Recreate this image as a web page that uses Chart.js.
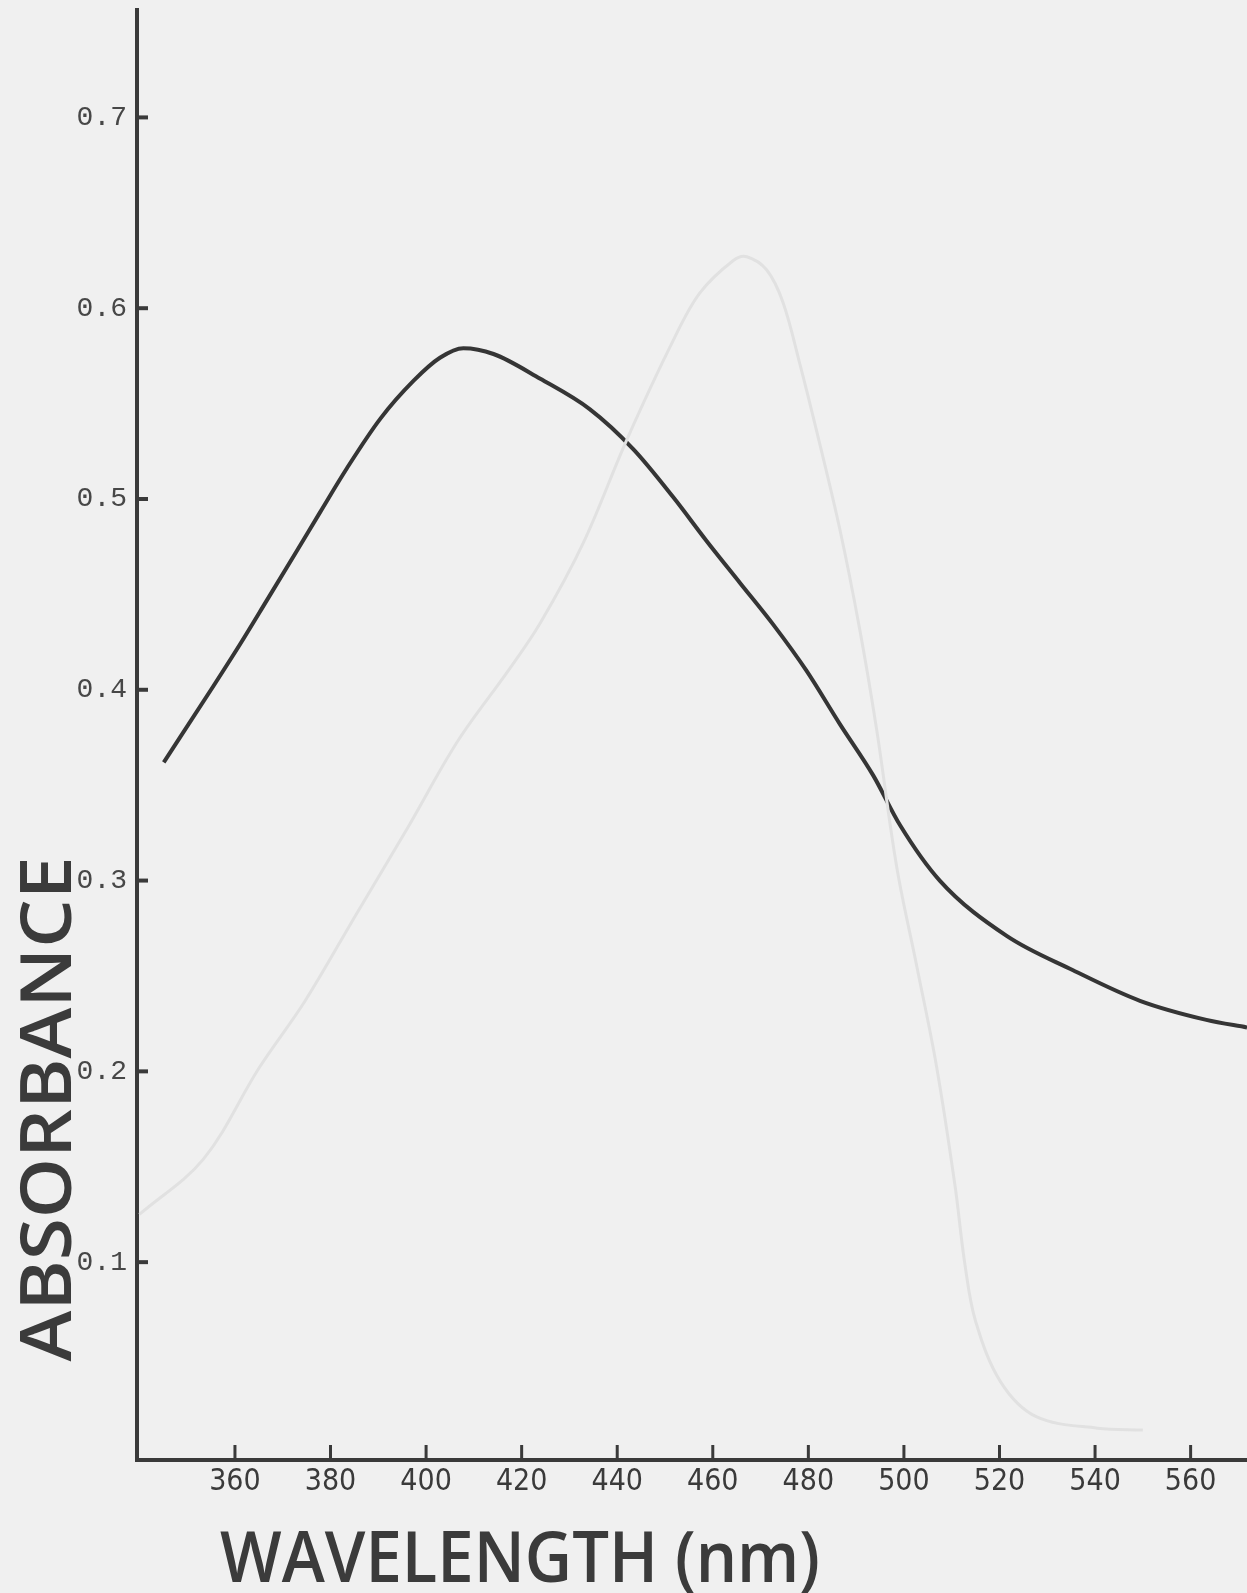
<!DOCTYPE html>
<html>
<head>
<meta charset="utf-8">
<title>Absorbance spectrum</title>
<script src="https://cdn.jsdelivr.net/npm/chart.js@4"></script>
<style>
  html, body { margin: 0; padding: 0; background: #f0f0f0; }
  canvas { display: block; }
</style>
</head>
<body>
<canvas id="chart" width="1247" height="1593"></canvas>
<script>
// readings taken off the scanned plot
const wavelength = [345.1, 355.5, 361.1, 366.7, 373.0, 377.8, 383.4, 390.4, 397.4, 402.9,
  407.8, 414.1, 423.9, 434.3, 443.4, 451.7, 458.7, 465.7, 472.7, 479.6,
  486.6, 493.6, 499.2, 507.5, 521.5, 535.4, 549.4, 563.3, 571.8];
const absorbance = [0.362, 0.402, 0.424, 0.447, 0.473, 0.493, 0.516, 0.542, 0.562, 0.574,
  0.579, 0.576, 0.563, 0.547, 0.526, 0.501, 0.478, 0.456, 0.434, 0.410,
  0.382, 0.355, 0.329, 0.300, 0.271, 0.253, 0.237, 0.227, 0.223];

// faint curve showing through from the other side of the page
const ghostWavelength = [340.0, 353.4, 365.1, 374.7, 385.3, 396.0, 406.6, 417.2, 423.9, 432.9,
  442.0, 451.7, 457.3, 464.3, 467.1, 471.3, 474.7, 478.2, 481.7, 486.6,
  490.8, 494.3, 498.5, 502.7, 506.8, 510.7, 512.7, 515.0, 520.3, 527.7, 540.5, 550.0];
const ghostAbsorbance = [0.125, 0.154, 0.202, 0.237, 0.282, 0.327, 0.373, 0.410, 0.435, 0.477,
  0.531, 0.583, 0.608, 0.625, 0.627, 0.620, 0.603, 0.571, 0.536, 0.484,
  0.431, 0.379, 0.307, 0.255, 0.203, 0.140, 0.100, 0.069, 0.037, 0.019, 0.013, 0.012];

const xTicks = [360, 380, 400, 420, 440, 460, 480, 500, 520, 540, 560];
const yTicks = [0.1, 0.2, 0.3, 0.4, 0.5, 0.6, 0.7];

const xTitle = "WAVELENGTH (nm)";
const yTitle = "ABSORBANCE";

const ink = "#353535",
  axisInk = "#3a3a3a",
  ghostInk = "#e1e1e1";

const toPoints = (xs, ys) => xs.map((x, i) => ({ x: x, y: ys[i] }));

// ticks are drawn inward from the axes, like on the paper
const innerTicks = {
  id: "innerTicks",
  afterDraw: (chart) => {
    const { ctx, chartArea } = chart,
      sx = chart.scales.x,
      sy = chart.scales.y;
    ctx.save();
    ctx.strokeStyle = axisInk;
    ctx.lineCap = "butt";
    ctx.lineWidth = 4;
    yTicks.forEach((v) => {
      const py = sy.getPixelForValue(v);
      ctx.beginPath();
      ctx.moveTo(chartArea.left, py);
      ctx.lineTo(chartArea.left + 11, py);
      ctx.stroke();
    });
    ctx.lineWidth = 3;
    xTicks.forEach((v) => {
      const px = sx.getPixelForValue(v);
      ctx.beginPath();
      ctx.moveTo(px, chartArea.bottom);
      ctx.lineTo(px, chartArea.bottom - 15);
      ctx.stroke();
    });
    ctx.restore();
  },
};

// hand lettered axis titles, squeezed to the width they take on the sheet
const drawFitted = (ctx, text, width) => {
  const w = ctx.measureText(text).width;
  ctx.scale(width / w, 1);
  ctx.fillText(text, 0, 0);
};

const axisTitles = {
  id: "axisTitles",
  afterDraw: (chart) => {
    const ctx = chart.ctx;
    ctx.save();
    ctx.fillStyle = "#3b3b3b";
    ctx.font = "600 70px 'Open Sans', 'Noto Sans', sans-serif";
    ctx.textAlign = "center";
    ctx.textBaseline = "alphabetic";

    ctx.save();
    ctx.translate(520, 1582);
    drawFitted(ctx, xTitle, 600);
    ctx.restore();

    ctx.save();
    ctx.translate(71, 1109);
    ctx.rotate(-Math.PI / 2);
    drawFitted(ctx, yTitle, 505);
    ctx.restore();

    ctx.restore();
  },
};

const config = {
  type: "line",
  data: {
    datasets: [
      {
        label: "show-through",
        data: toPoints(ghostWavelength, ghostAbsorbance),
        borderColor: ghostInk,
        borderWidth: 3,
        pointRadius: 0,
        tension: 0.35,
      },
      {
        label: "Absorbance",
        data: toPoints(wavelength, absorbance),
        borderColor: ink,
        borderWidth: 4,
        pointRadius: 0,
        cubicInterpolationMode: "monotone",
      },
    ],
  },
  options: {
    responsive: false,
    animation: false,
    devicePixelRatio: 1,
    layout: { padding: { top: 10, right: 0, left: 0, bottom: 0 } },
    plugins: {
      legend: { display: false },
      tooltip: { enabled: false },
    },
    scales: {
      x: {
        type: "linear",
        min: 339.5,
        max: 571.8,
        afterBuildTicks: (scale) => {
          scale.ticks = xTicks.map((v) => ({ value: v }));
        },
        afterFit: (scale) => {
          scale.height = 133;
          scale.paddingLeft = 0;
          scale.paddingRight = 0;
        },
        grid: { drawOnChartArea: false, drawTicks: false },
        border: { display: true, color: axisInk, width: 4 },
        ticks: {
          padding: 4,
          autoSkip: false,
          maxRotation: 0,
          color: "#3a3a3a",
          font: { family: "'Liberation Sans Narrow', 'DejaVu Sans Condensed', 'Roboto', sans-serif", size: 30 },
          callback: (v) => String(v),
        },
      },
      y: {
        type: "linear",
        min: -0.0037,
        max: 0.7563,
        afterBuildTicks: (scale) => {
          scale.ticks = yTicks.map((v) => ({ value: v }));
        },
        afterFit: (scale) => {
          scale.width = 137;
          scale.paddingTop = 0;
          scale.paddingBottom = 0;
        },
        grid: { drawOnChartArea: false, drawTicks: false },
        border: { display: true, color: axisInk, width: 4 },
        ticks: {
          padding: 10,
          autoSkip: false,
          color: "#474747",
          font: { family: "'Liberation Mono', 'DejaVu Sans Mono', monospace", size: 28 },
          callback: (v) => v.toFixed(1),
        },
      },
    },
  },
  plugins: [innerTicks, axisTitles],
};

const canvasChart = document.getElementById("chart");
new Chart(canvasChart, config);
</script>
</body>
</html>
